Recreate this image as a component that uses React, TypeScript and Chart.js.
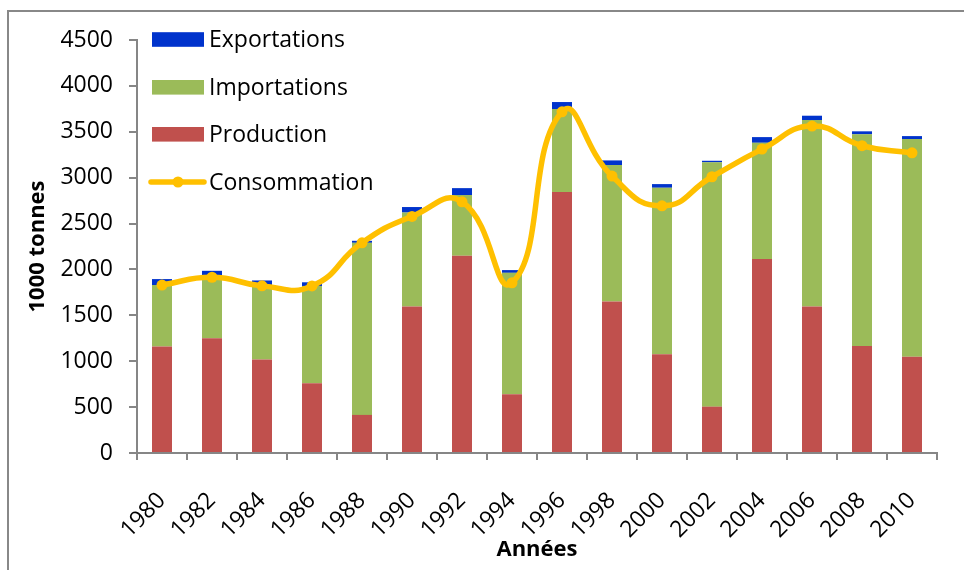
import React, { useEffect, useRef } from "react";
import { Chart, registerables } from "chart.js";

Chart.register(...registerables);

const years = ["1980", "1982", "1984", "1986", "1988", "1990", "1992", "1994", "1996", "1998", "2000", "2002", "2004", "2006", "2008", "2010"];
const production = [1160, 1250, 1020, 760, 415, 1595, 2150, 640, 2845, 1650, 1075, 505, 2115, 1595, 1165, 1050];
const importations = [670, 680, 810, 1060, 1875, 1025, 660, 1323, 903, 1487, 1815, 2662, 1265, 2033, 2307, 2371];
const exportations = [65, 55, 50, 40, 22, 60, 76, 30, 76, 51, 40, 17, 62, 47, 33, 32];
const consommation = [1830, 1915, 1821, 1820, 2290, 2578, 2737, 1854, 3718, 3017, 2693, 3010, 3311, 3562, 3348, 3271];
const yTicks = [0, 500, 1000, 1500, 2000, 2500, 3000, 3500, 4000, 4500];

const FONT = "'Open Sans', 'Noto Sans', sans-serif";
const AXIS = "#868686";

const insideLegend = {
  id: "insideLegend",
  afterDraw(chart: any) {
    const ctx = chart.ctx;
    const ds = chart.data.datasets;
    const rows = [
      { i: 2, y: 39.5 },
      { i: 1, y: 87.3 },
      { i: 0, y: 134.3 },
      { i: 3, y: 182 },
    ];
    ctx.save();
    ctx.font = `23px ${FONT}`;
    ctx.textBaseline = "middle";
    ctx.textAlign = "left";
    for (const r of rows) {
      const d = ds[r.i];
      if (d.type === "line") {
        ctx.strokeStyle = d.borderColor;
        ctx.lineWidth = 5.5;
        ctx.lineCap = "round";
        ctx.beginPath();
        ctx.moveTo(151, r.y);
        ctx.lineTo(204, r.y);
        ctx.stroke();
        ctx.fillStyle = d.borderColor;
        ctx.beginPath();
        ctx.arc(178, r.y, 5.5, 0, Math.PI * 2);
        ctx.fill();
      } else {
        ctx.fillStyle = d.backgroundColor;
        ctx.fillRect(152, r.y - 7.3, 52, 14.6);
      }
      ctx.fillStyle = "#000";
      ctx.fillText(d.label, 209, r.y + 1);
    }
    ctx.restore();
  },
};

export default function App() {
  const ref = useRef<HTMLCanvasElement>(null);
  useEffect(() => {
    if (!ref.current) return;
    const chart = new Chart(ref.current, {
      type: "bar",
      data: {
        labels: years,
        datasets: [
          { type: "bar", label: "Production", data: production, backgroundColor: "#C0504D", stack: "s", order: 1, barPercentage: 0.4, categoryPercentage: 1 } as any,
          { type: "bar", label: "Importations", data: importations, backgroundColor: "#9BBB59", stack: "s", order: 1, barPercentage: 0.4, categoryPercentage: 1 } as any,
          { type: "bar", label: "Exportations", data: exportations, backgroundColor: "#0033CC", stack: "s", order: 1, barPercentage: 0.4, categoryPercentage: 1 } as any,
          {
            type: "line",
            label: "Consommation",
            data: consommation,
            borderColor: "#FFC000",
            backgroundColor: "#FFC000",
            pointBackgroundColor: "#FFC000",
            pointBorderColor: "#FFC000",
            pointBorderWidth: 0,
            pointRadius: 5.5,
            borderWidth: 5.5,
            tension: 0.5,
            fill: false,
            stack: "line",
            order: 0,
          } as any,
        ],
      },
      options: {
        animation: false,
        responsive: false,
        maintainAspectRatio: false,
        devicePixelRatio: 1,
        layout: { padding: { left: 25, top: 40, right: 27, bottom: 7 } },
        plugins: { legend: { display: false }, tooltip: { enabled: false } },
        scales: {
          x: {
            stacked: true,
            offset: true,
            grid: { offset: true, drawOnChartArea: false, drawTicks: true, tickLength: 7, color: AXIS, lineWidth: 2 },
            border: { color: AXIS, width: 2 },
            ticks: { minRotation: 45, maxRotation: 45, autoSkip: false, color: "#000", font: { family: FONT, size: 23 }, padding: 27 },
            title: { display: true, text: "Années", color: "#000", font: { family: FONT, size: 22, weight: "bold" }, padding: 0 },
            afterFit: (s: any) => { s.height = 110; },
          },
          y: {
            stacked: true,
            min: 0,
            max: 4500,
            afterBuildTicks: (s: any) => { s.ticks = yTicks.map((v) => ({ value: v })); },
            grid: { drawOnChartArea: false, drawTicks: true, tickLength: 8, color: AXIS, lineWidth: 2 },
            border: { color: AXIS, width: 2 },
            ticks: { color: "#000", font: { family: FONT, size: 23 }, padding: 16, callback: (v: any) => String(v) },
            title: { display: true, text: "1000 tonnes", color: "#000", font: { family: FONT, size: 22, weight: "bold" }, padding: 0 },
            afterFit: (s: any) => { s.width = 112; },
          },
        },
      },
      plugins: [insideLegend],
    });
    return () => chart.destroy();
  }, []);

  return (
    <div style={{ position: "fixed", left: 0, top: 0, width: 964, height: 570, background: "#fff", overflow: "hidden" }}>
      <div style={{ position: "absolute", left: 7, top: 10, width: 1100, height: 700, borderTop: "2px solid #888", borderLeft: "2px solid #888" }} />
      <canvas ref={ref} width={964} height={570} style={{ position: "absolute", left: 0, top: 0, width: 964, height: 570 }} />
    </div>
  );
}
